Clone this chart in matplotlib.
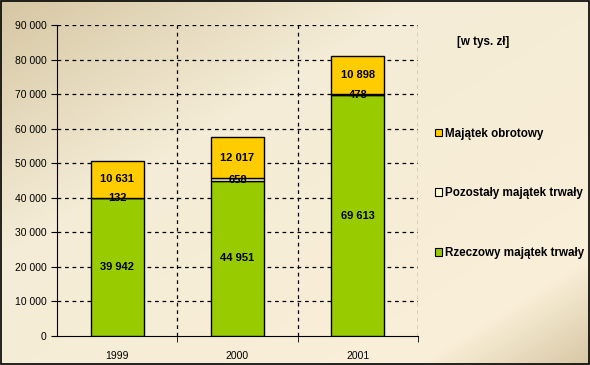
import numpy as np
import matplotlib
matplotlib.use("Agg")
import matplotlib.pyplot as plt
from matplotlib.ticker import FuncFormatter

plt.rcParams['font.family'] = ['Liberation Sans', 'DejaVu Sans']

years = ['1999', '2000', '2001']
rzeczowy = [39942, 44951, 69613]
pozostaly = [132, 658, 478]
obrotowy = [10631, 12017, 10898]
series_names = ['Rzeczowy majątek trwały', 'Pozostały majątek trwały', 'Majątek obrotowy']
colors = ['#99CC00', '#FFFFCC', '#FFCC00']
unit_label = '[w tys. zł]'

fig = plt.figure(figsize=(5.9, 3.65), dpi=100)

# gradient background
bg = fig.add_axes([0, 0, 1, 1], zorder=-10)
h, w = 365, 590
yy, xx = np.mgrid[0:h, 0:w]
t = (xx / w + yy / h) / 2.0
light = np.array([250, 239, 216]) / 255.0
dark = np.array([214, 199, 163]) / 255.0
mid = np.array([244, 236, 214]) / 255.0
img = np.zeros((h, w, 3))
for c in range(3):
    v = np.where(t < 0.35, dark[c] + (mid[c] - dark[c]) * (t / 0.35),
                 np.where(t < 0.85, mid[c] + (light[c] - mid[c]) * ((t - 0.35) / 0.5),
                          light[c] + (dark[c] - light[c]) * ((t - 0.85) / 0.15)))
    img[:, :, c] = v
bg.imshow(img, aspect='auto', extent=[0, 1, 0, 1], origin='upper')
bg.set_xlim(0, 1)
bg.set_ylim(0, 1)
bg.axis('off')
bg.add_patch(plt.Rectangle((0.001, 0.002), 0.997, 0.995, fill=False, ec='black', lw=1.2))

ax = fig.add_axes([57 / 590, 1 - 336 / 365, (418 - 57) / 590, (336 - 25) / 365])
ax.patch.set_alpha(0)

x = np.arange(len(years))
bw = 0.44
bottom = np.zeros(3)
for vals, col in zip([rzeczowy, pozostaly, obrotowy], colors):
    vals = np.array(vals)
    ax.bar(x, vals, bw, bottom=bottom, color=col, edgecolor='black', linewidth=1, zorder=3)
    for xi, b, v in zip(x, bottom, vals):
        ax.text(xi, b + v / 2, f'{v:,}'.replace(',', ' '), ha='center', va='center',
                fontsize=8, fontweight='bold', zorder=4)
    bottom += vals

ax.set_xlim(-0.5, 2.5)
ax.set_ylim(0, 90000)
ax.set_yticks(np.arange(0, 90001, 10000))
ax.yaxis.set_major_formatter(FuncFormatter(lambda v, p: f'{int(v):,}'.replace(',', ' ')))
ax.set_xticks(x)
ax.set_xticklabels(years)
ax.set_xticks([0.5, 1.5, 2.5], minor=True)
ax.tick_params(axis='x', which='major', length=0, labelsize=7.5, pad=10.5)
ax.tick_params(axis='x', which='minor', length=4, direction='out')
ax.tick_params(axis='y', length=4, direction='out', labelsize=7.5)
for yv in np.arange(10000, 90001, 10000):
    ax.axhline(yv, color='black', lw=0.9, ls=(0, (3, 3)), zorder=1)
for xv in [0.5, 1.5, 2.5]:
    ax.axvline(xv, color='black', lw=0.9, ls=(0, (3, 3)), zorder=1)
for s in ['top', 'right']:
    ax.spines[s].set_visible(False)

handles = [plt.Rectangle((0, 0), 1, 1, fc=c, ec='black', lw=0.8) for c in colors][::-1]
fig.legend(handles, series_names[::-1], loc='upper left', bbox_to_anchor=(424 / 590, 1 - 117 / 365),
           frameon=False, handlelength=0.65, handleheight=0.65, handletextpad=0.25,
           labelspacing=4.1, prop={'size': 8.4, 'weight': 'bold'})
fig.text(483 / 590, 1 - 42 / 365, unit_label, ha='center', va='center', fontsize=8.4, fontweight='bold')

fig.savefig('out.png', dpi=100)
